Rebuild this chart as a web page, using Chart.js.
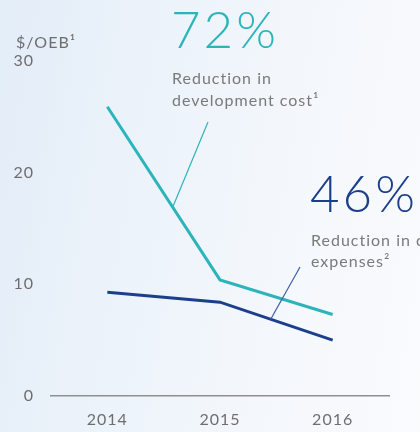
<!DOCTYPE html>
<html>
<head>
<meta charset="utf-8">
<script src="https://cdn.jsdelivr.net/npm/chart.js@4/dist/chart.umd.min.js"></script>
<style>
  html, body { margin: 0; padding: 0; }
  body { width: 420px; height: 432px; overflow: hidden;
         background: linear-gradient(100deg, #e3edf8 0%, #ecf3fa 35%, #f5f8fc 70%, #f9fbfd 100%); }
  #wrap { position: relative; width: 420px; height: 432px; }
</style>
</head>
<body>
<div id="wrap"><canvas id="c" width="420" height="432"></canvas></div>
<script>
const years = ['2014', '2015', '2016'];
const developmentCost = [25.9, 10.4, 7.3];
const operatingExpenses = [9.3, 8.4, 5.0];
const yTicks = [0, 10, 20, 30];
const unitLabel = '$/OEB¹';
const devPct = '72%';
const devText = ['Reduction in', 'development cost¹'];
const opPct = '46%';
const opText = ['Reduction in operating', 'expenses²'];

const TEAL = '#2db4bb';
const NAVY = '#1c3f8c';
const GRAY = '#6e6e6e';
const FONT = 'Lato, "Noto Sans", sans-serif';

function pointOnLine(chart, dsIndex, i, frac) {
  const meta = chart.getDatasetMeta(dsIndex);
  const a = meta.data[i], b = meta.data[i + 1];
  return { x: a.x + (b.x - a.x) * frac, y: a.y + (b.y - a.y) * frac };
}

const spacing = {
  id: 'spacing',
  beforeLayout(chart) { chart.ctx.letterSpacing = '1px'; },
  beforeDraw(chart) { chart.ctx.letterSpacing = '1px'; }
};

const annotate = {
  id: 'annotate',
  afterDraw(chart) {
    const ctx = chart.ctx;
    ctx.save();
    // leader lines
    const p1 = pointOnLine(chart, 0, 0, 0.58);
    ctx.strokeStyle = TEAL; ctx.lineWidth = 1.2;
    ctx.beginPath(); ctx.moveTo(p1.x, p1.y); ctx.lineTo(208, 122); ctx.stroke();
    const p2 = pointOnLine(chart, 1, 1, 0.45);
    ctx.strokeStyle = '#3d5fa3'; ctx.lineWidth = 1.2;
    ctx.beginPath(); ctx.moveTo(p2.x, p2.y); ctx.lineTo(300, 267); ctx.stroke();

    ctx.textBaseline = 'alphabetic';
    ctx.textAlign = 'left';
    // unit label
    ctx.letterSpacing = '1px';
    ctx.fillStyle = GRAY;
    ctx.font = '16px ' + FONT;
    ctx.fillText(unitLabel, 16, 48);
    // big percentages
    ctx.letterSpacing = '3px';
    ctx.font = '300 51px ' + FONT;
    ctx.fillStyle = TEAL;
    ctx.fillText(devPct, 171, 48);
    ctx.fillStyle = NAVY;
    ctx.fillText(opPct, 310, 212);
    // descriptions
    ctx.letterSpacing = '1px';
    ctx.font = '16px ' + FONT;
    ctx.fillStyle = '#7a7a7a';
    ctx.fillText(devText[0], 172, 84);
    ctx.fillText(devText[1], 172, 106);
    ctx.fillText(opText[0], 311, 246);
    ctx.fillText(opText[1], 311, 267);
    ctx.restore();
  }
};

new Chart(document.getElementById('c'), {
  type: 'line',
  data: {
    labels: years,
    datasets: [
      { label: 'Development cost', data: developmentCost, borderColor: TEAL, borderWidth: 3,
        pointRadius: 0, tension: 0, fill: false, borderCapStyle: 'butt' },
      { label: 'Operating expenses', data: operatingExpenses, borderColor: NAVY, borderWidth: 3,
        pointRadius: 0, tension: 0, fill: false, borderCapStyle: 'butt' }
    ]
  },
  options: {
    responsive: false,
    animation: false,
    layout: { padding: { left: 0, right: 31, top: 61, bottom: 0 } },
    plugins: { legend: { display: false }, tooltip: { enabled: false } },
    scales: {
      x: {
        offset: true,
        grid: { display: false, drawTicks: false },
        border: { display: true, color: '#8f8f8f', width: 1.5 },
        ticks: { color: GRAY, font: { family: FONT, size: 16 }, padding: 14 },
        afterFit(scale) { scale.height = 36; }
      },
      y: {
        min: 0, max: 30,
        afterBuildTicks(scale) { scale.ticks = yTicks.map(v => ({ value: v })); },
        grid: { display: false, drawTicks: false },
        border: { display: false },
        ticks: { color: GRAY, font: { family: FONT, size: 16 }, padding: 17 },
        afterFit(scale) { scale.width = 51; }
      }
    }
  },
  plugins: [spacing, annotate]
});
</script>
</body>
</html>
